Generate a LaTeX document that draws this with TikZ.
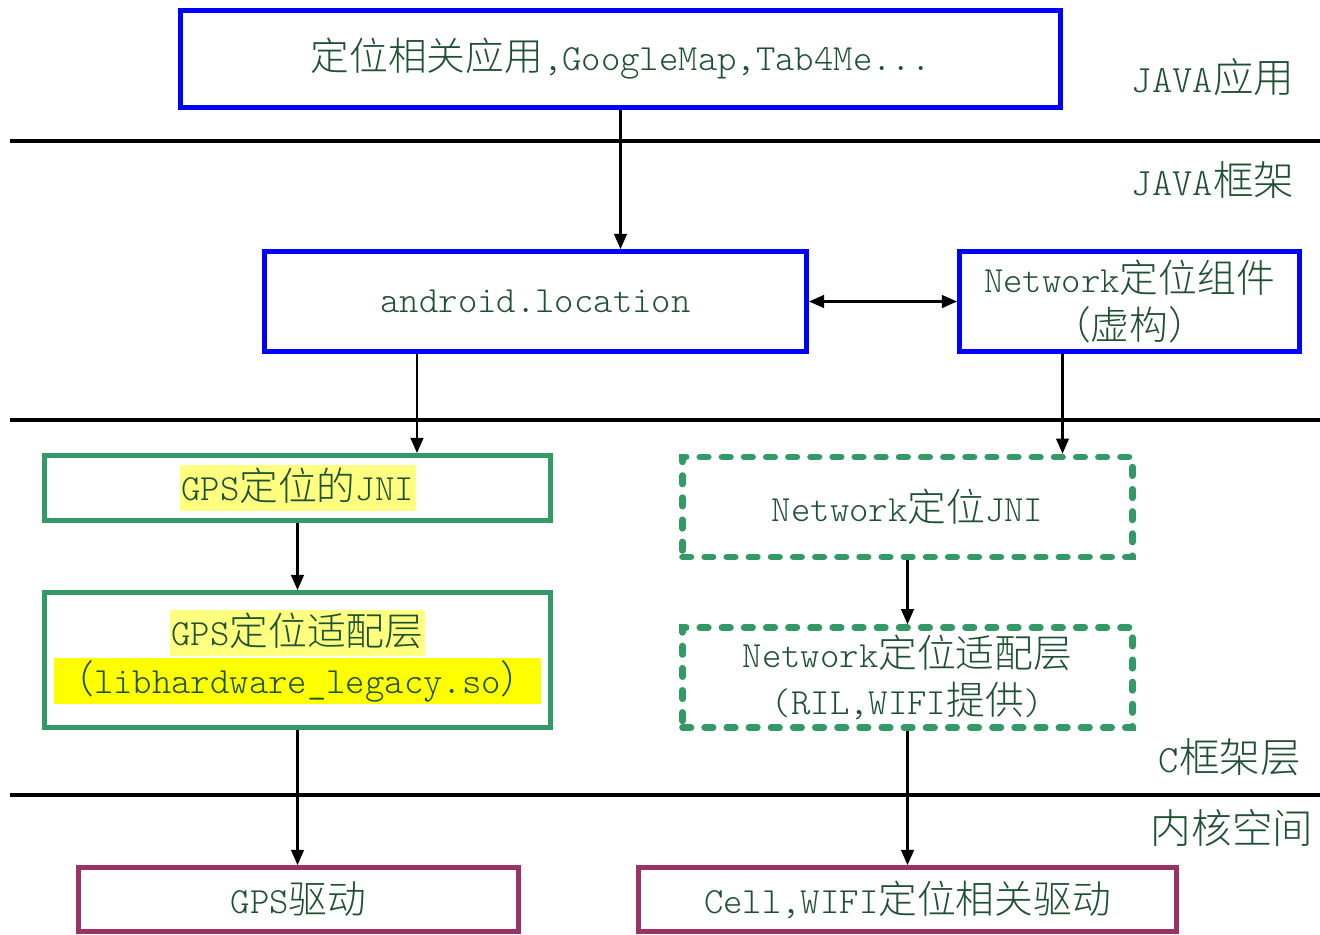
\documentclass[tikz,border=0pt]{standalone}
\usepackage{fontspec}
\setmonofont{lmmonolt10-regular.otf}
\newfontfamily\cjk{Noto Sans CJK SC Light}[Scale=1.05]
\usetikzlibrary{arrows.meta,calc}
\definecolor{boxblue}{RGB}{0,0,255}
\definecolor{boxgreen}{RGB}{51,153,102}
\definecolor{boxpurple}{RGB}{153,51,102}
\definecolor{txtgreen}{RGB}{30,80,50}
\definecolor{hlpale}{RGB}{255,255,128}
\definecolor{hlbright}{RGB}{255,255,0}
\newcommand{\zh}[1]{{\cjk #1}}

\begin{document}
\begin{tikzpicture}[font=\ttfamily\fontsize{10.5}{12.5}\selectfont,text=txtgreen,
    bluebox/.style={draw=boxblue,line width=1.4pt,align=center,inner ysep=0pt},
    greenbox/.style={draw=boxgreen,line width=1.4pt,align=center},
    dashbox/.style={draw=boxgreen,line width=1.9pt,dash pattern=on 2.4pt off 3.9pt,line cap=round,align=center,inner ysep=0pt},
    drvbox/.style={draw=boxpurple,line width=1.4pt,align=center},
    hl/.style={fill=#1,inner xsep=0.5pt,inner ysep=1pt,text height=9pt,text depth=2pt},
    layer/.style={font=\ttfamily\fontsize{11}{15}\selectfont},
    sep/.style={line width=1.1pt},
    arr/.style={-{Triangle[length=4.3pt,width=3.6pt]},line width=0.65pt,draw=black}]
  \useasboundingbox (0,0) rectangle (13.2,-9.34);
  % layers
  \draw[sep] (0.1,-1.41) -- (13.2,-1.41);
  \draw[sep] (0.1,-4.20) -- (13.2,-4.20);
  \draw[sep] (0.1,-7.95) -- (13.2,-7.95);
  \node[layer] (japp) at (12.13,-0.77) {JAVA\zh{应用}};
  \node[layer] (jfw) at (12.13,-1.80) {JAVA\zh{框架}};
  \node[layer] (cfw) at (12.30,-7.57) {C\zh{框架层}};
  \node[layer] (kernel) at (12.32,-8.28) {\zh{内核空间}};
  % java
  \node[bluebox,minimum width=8.8cm,minimum height=0.97cm] (app) at (6.205,-0.59) {\zh{定位相关应用},GoogleMap,Tab4Me...};
  \node[bluebox,minimum width=5.42cm,minimum height=1.0cm] (loc) at (5.355,-3.015) {android.location};
  \node[bluebox,minimum width=3.40cm,minimum height=1.0cm] (netcomp) at (11.295,-3.015) {Network\zh{定位组件}\\[1pt]\zh{（虚构）}};
  % c layer
  \node[greenbox,minimum width=5.06cm,minimum height=0.65cm] (gpsjni) at (2.975,-4.88) {};
  \node[hl=hlpale] (gpsjnitxt) at (gpsjni.center) {GPS\zh{定位的}JNI};
  \node[greenbox,minimum width=5.06cm,minimum height=1.35cm] (gpsad) at (2.975,-6.60) {};
  \node[hl=hlpale] (gpsadtxt) at ([yshift=0.27cm]gpsad.center) {GPS\zh{定位适配层}};
  \node[hl=hlbright] (gpsadlib) at ([yshift=-0.21cm]gpsad.center) {\zh{（}libhardware\_legacy.so\zh{）}};
  \node[dashbox,minimum width=4.5cm,minimum height=1.0cm] (netjni) at (9.075,-5.07) {Network\zh{定位}JNI};
  \node[dashbox,minimum width=4.5cm,minimum height=1.0cm] (netad) at (9.075,-6.775) {Network\zh{定位适配层}\\[1pt](RIL,WIFI\zh{提供})};
  % kernel
  \node[drvbox,minimum width=4.4cm,minimum height=0.64cm] (gpsdrv) at (2.985,-8.995) {GPS\zh{驱动}};
  \node[drvbox,minimum width=5.38cm,minimum height=0.64cm] (celldrv) at (9.075,-8.995) {Cell,WIFI\zh{定位相关驱动}};
  % arrows
  \draw[arr] (app.south) -- (app.south |- loc.north);
  \draw[arr,{Triangle[length=4.3pt,width=3.6pt]}-{Triangle[length=4.3pt,width=3.6pt]}] (loc.east) -- (netcomp.west);
  \draw[arr] ([xshift=-1.185cm]loc.south) -- ([xshift=-1.185cm]loc.south |- gpsjni.north);
  \draw[arr] ([xshift=-0.67cm]netcomp.south) -- ([xshift=-0.67cm]netcomp.south |- netjni.north);
  \draw[arr] (gpsjni.south) -- (gpsad.north);
  \draw[arr] (netjni.south) -- (netad.north);
  \draw[arr] (gpsad.south) -- (gpsad.south |- gpsdrv.north);
  \draw[arr] (netad.south) -- (netad.south |- celldrv.north);
\end{tikzpicture}
\end{document}
